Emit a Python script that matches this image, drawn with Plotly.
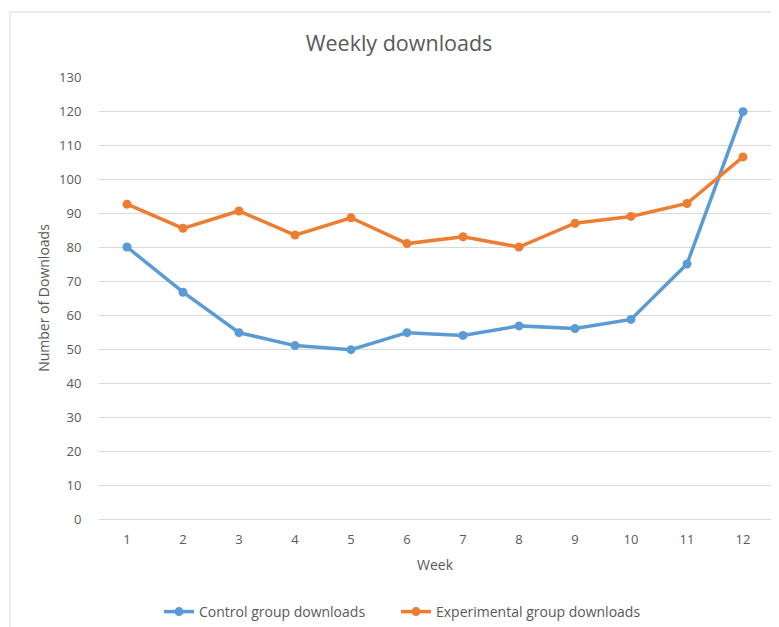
import plotly.graph_objects as go

weeks = [1, 2, 3, 4, 5, 6, 7, 8, 9, 10, 11, 12]
control = [80, 66.7, 54.8, 51, 49.8, 54.8, 54, 56.8, 56, 58.7, 75, 119.8]
experimental = [92.6, 85.5, 90.6, 83.5, 88.6, 81, 83, 80, 87, 89, 92.8, 106.5]
y_ticks = list(range(0, 131, 10))

FONT = "Open Sans"
GRAY = "#595959"
GRID = "#d9d9d9"

# page body has an 8px margin; compensate so the picture lines up with the window
OFF = 8
W, H = 779 - OFF, 627 - OFF
PL, PR, PT, PB = 99, 771, 77, 519  # plot area in window pixels
L, T = PL - OFF, PT - OFF
R, B = W - (PR - OFF), H - (PB - OFF)
pw, ph = PR - PL, PB - PT

def px(x):
    return (x - PL) / pw

def py(y):
    return (PB - y) / ph

def cx(x):
    return (x - OFF) / W

def cy(y):
    return 1 - (y - OFF) / H

fig = go.Figure()
fig.add_trace(go.Scatter(
    x=weeks, y=control, mode="lines+markers", name="Control group downloads",
    line=dict(color="#5b9bd5", width=3.5), marker=dict(size=9, color="#5b9bd5"),
    legend="legend",
))
fig.add_trace(go.Scatter(
    x=weeks, y=experimental, mode="lines+markers", name="Experimental group downloads",
    line=dict(color="#ed7d31", width=3.5), marker=dict(size=9, color="#ed7d31"),
    legend="legend2",
))

leg_common = dict(orientation="h", xref="container", xanchor="left",
                  yref="container", yanchor="middle", y=cy(612),
                  font=dict(family=FONT, size=14, color=GRAY), itemwidth=30,
                  bgcolor="rgba(0,0,0,0)")

fig.update_layout(
    width=W, height=H,
    margin=dict(l=L, r=R, t=T, b=B, autoexpand=False),
    paper_bgcolor="white", plot_bgcolor="white",
    font=dict(family=FONT, size=13, color=GRAY),
    title=dict(text="Weekly downloads", x=cx(399), xref="container", xanchor="center",
               y=cy(43), yref="container", yanchor="middle",
               font=dict(family=FONT, size=21.5, color=GRAY), automargin=False),
    showlegend=True,
    legend=dict(x=cx(159), **leg_common),
    legend2=dict(x=cx(396), **leg_common),
    xaxis=dict(range=[0.5, 12.5], tickmode="array", tickvals=weeks,
               ticktext=[str(w) for w in weeks], showgrid=False, zeroline=False,
               showline=False, ticks="outside", ticklen=8, tickcolor="rgba(0,0,0,0)",
               title=dict(text="Week", standoff=13, font=dict(size=14, color=GRAY)),
               automargin=False, fixedrange=True),
    yaxis=dict(range=[0, 130], tickmode="array", tickvals=y_ticks,
               showgrid=True, gridcolor=GRID, gridwidth=1, zeroline=True,
               zerolinecolor=GRID, zerolinewidth=1, showline=False,
               ticks="outside", ticklen=14, tickcolor="rgba(0,0,0,0)",
               title=dict(text="Number of Downloads", standoff=6, font=dict(size=14, color=GRAY)),
               automargin=False, fixedrange=True),
    shapes=[dict(type="rect", xref="paper", yref="paper",
                 x0=px(10), x1=px(800), y0=py(12), y1=py(660),
                 line=dict(color=GRID, width=1), fillcolor="rgba(0,0,0,0)", layer="below")],
)

fig.write_html("out.html")
